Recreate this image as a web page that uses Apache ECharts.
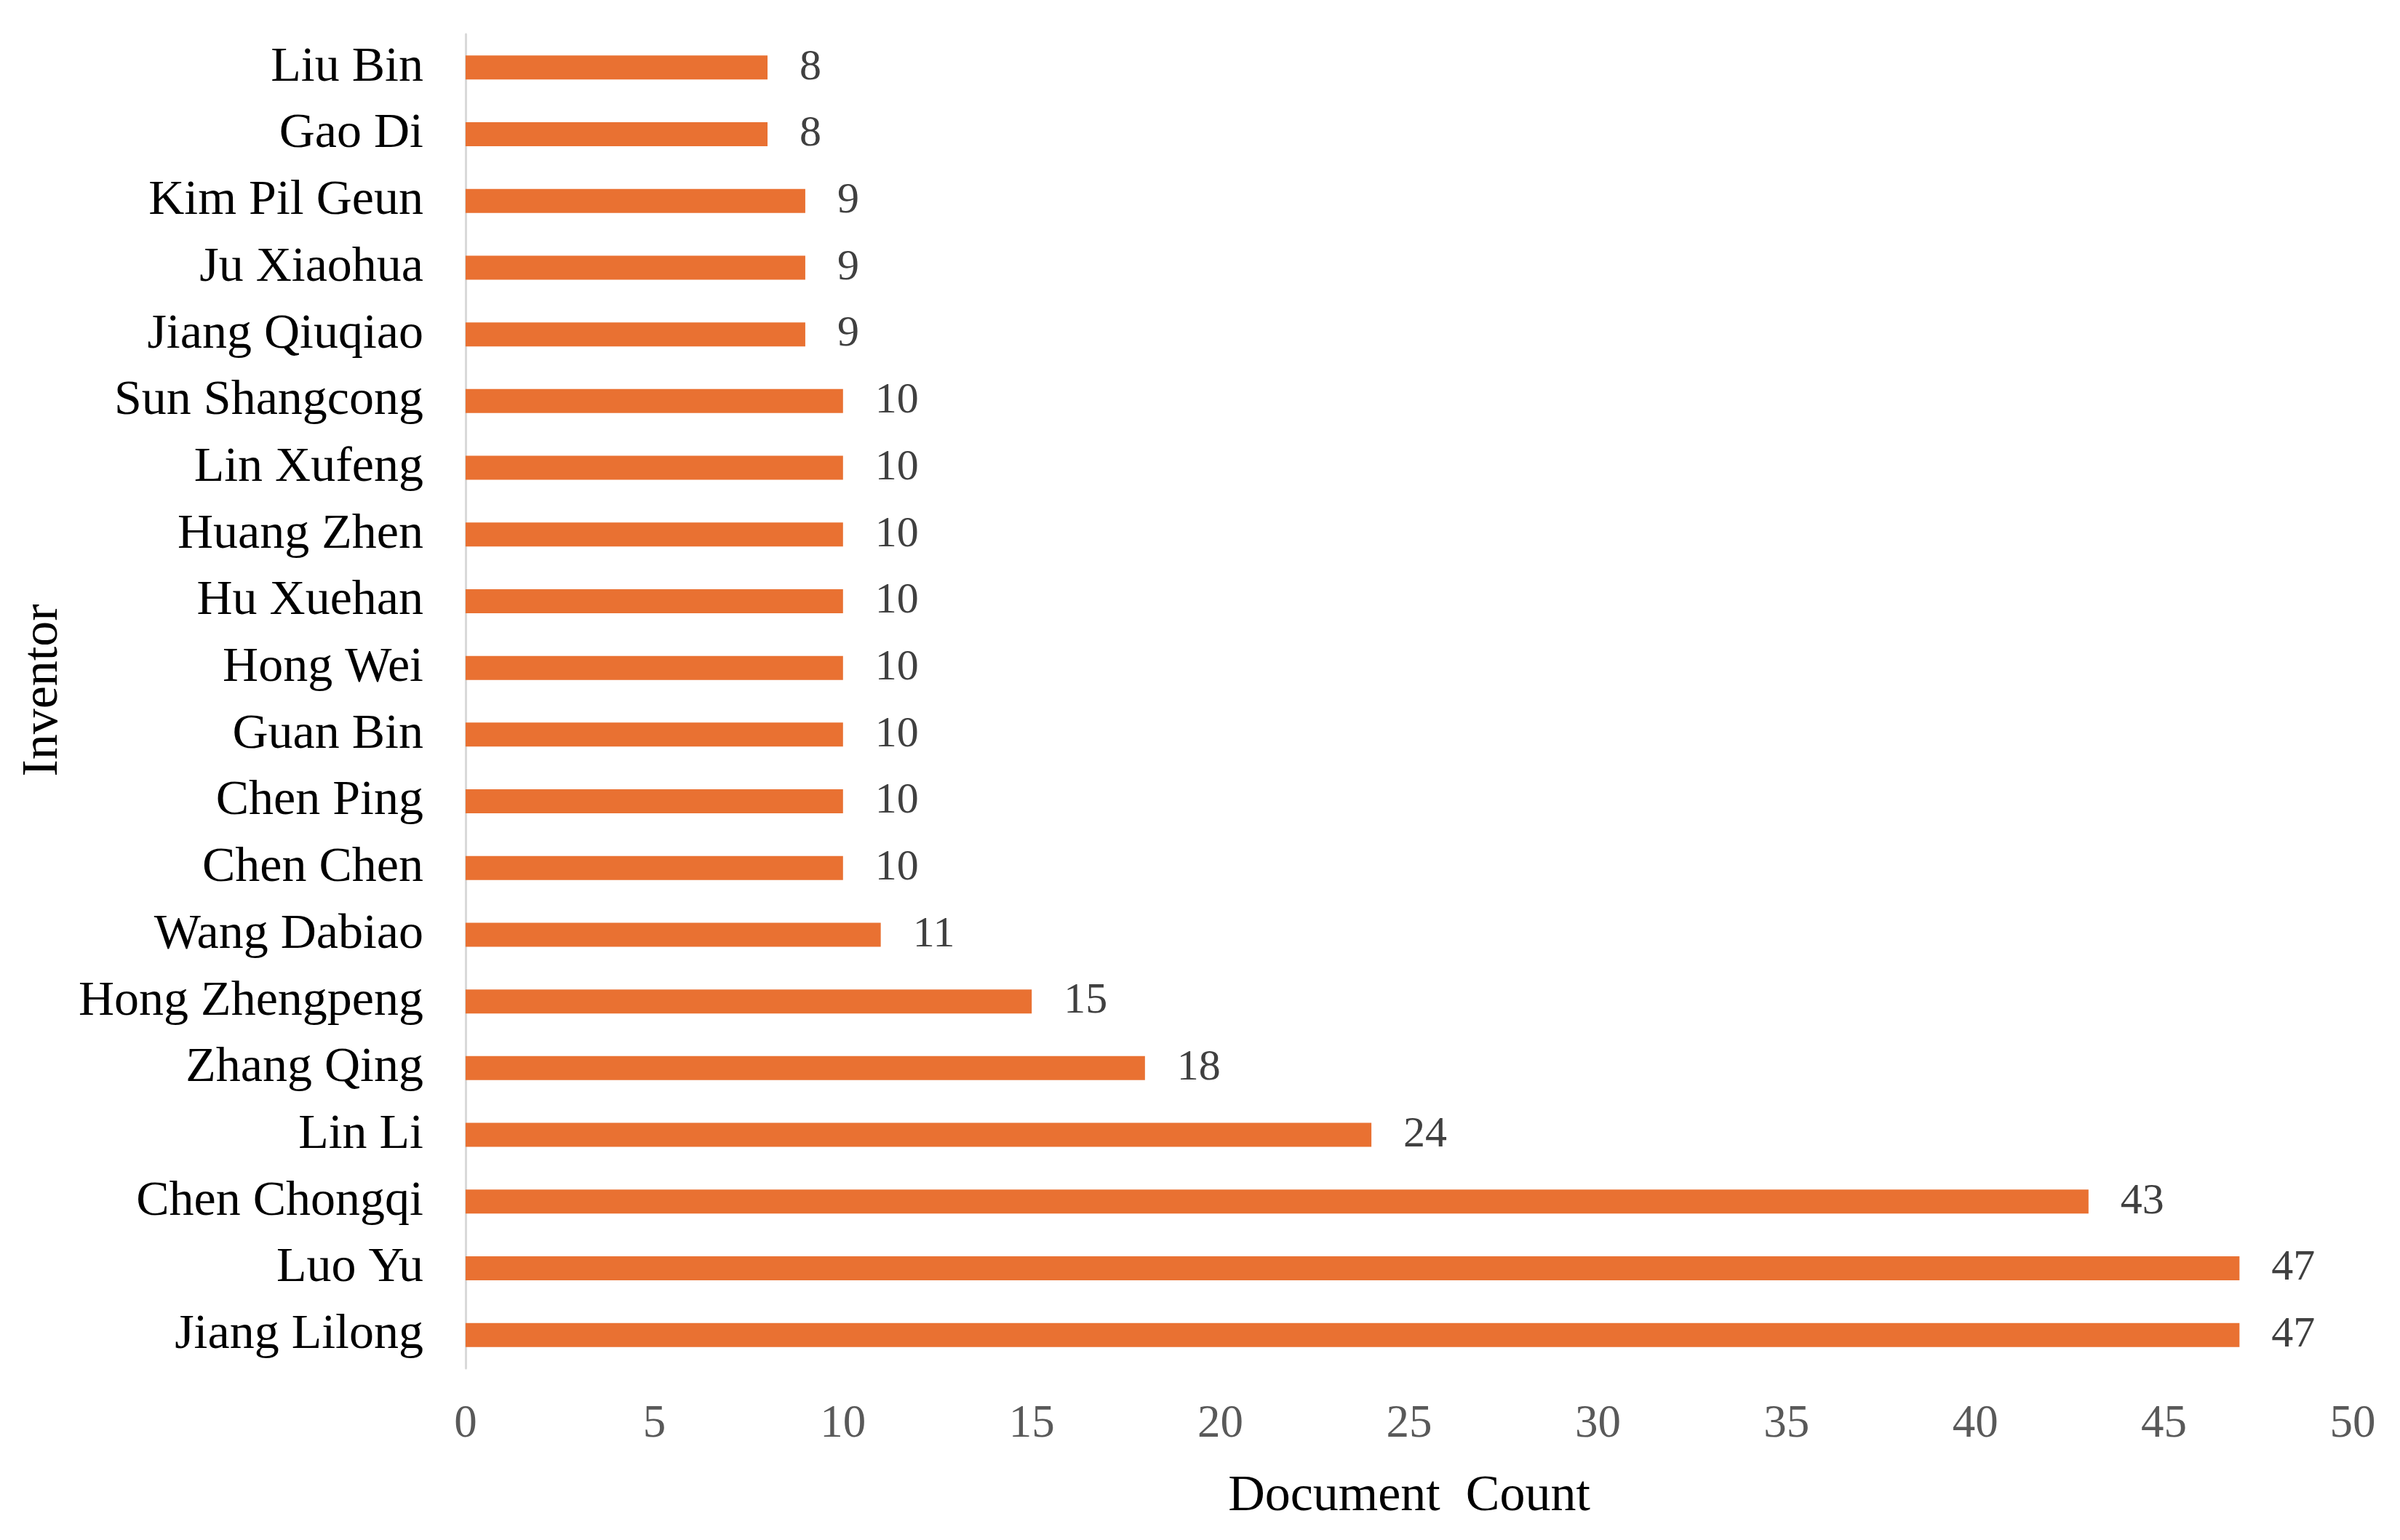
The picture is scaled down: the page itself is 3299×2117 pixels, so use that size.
<!DOCTYPE html>
<html>
<head>
<meta charset="utf-8">
<script src="https://cdn.jsdelivr.net/npm/echarts@6/dist/echarts.min.js"></script>
<style>
html,body{margin:0;padding:0;background:#fff;}
#chart{width:3299px;height:2117px;}
</style>
</head>
<body>
<div id="chart"></div>
<script>
// Categories listed top to bottom as in the reference
const inventors = ["Liu Bin","Gao Di","Kim Pil Geun","Ju Xiaohua","Jiang Qiuqiao","Sun Shangcong","Lin Xufeng","Huang Zhen","Hu Xuehan","Hong Wei","Guan Bin","Chen Ping","Chen Chen","Wang Dabiao","Hong Zhengpeng","Zhang Qing","Lin Li","Chen Chongqi","Luo Yu","Jiang Lilong"];
const documentCounts = [8,8,9,9,9,10,10,10,10,10,10,10,10,11,15,18,24,43,47,47];
const xTicks = {min:0, max:50, interval:5};
const xAxisTitle = "Document  Count";
const yAxisTitle = "Inventor";

const FONT = "'Liberation Serif','Times New Roman',serif";
const chart = echarts.init(document.getElementById('chart'));
chart.setOption({
  animation:false,
  backgroundColor:'#ffffff',
  grid:{left:640, right:65, top:47, bottom:236, containLabel:false},
  xAxis:{
    type:'value', min:xTicks.min, max:xTicks.max, interval:xTicks.interval,
    axisLine:{show:false}, axisTick:{show:false}, splitLine:{show:false},
    axisLabel:{fontFamily:FONT, fontSize:63, color:'#595959', margin:46},
    name:xAxisTitle, nameLocation:'middle', nameGap:142,
    nameTextStyle:{fontFamily:FONT, fontSize:70, color:'#000000'}
  },
  yAxis:{
    type:'category', data:inventors, inverse:true,
    axisLine:{show:true, lineStyle:{color:'#d9d9d9', width:3}},
    axisTick:{show:false},
    axisLabel:{fontFamily:FONT, fontSize:68, color:'#000000', margin:58},
    name:yAxisTitle, nameLocation:'middle', nameGap:545, nameRotate:90,
    nameTextStyle:{fontFamily:FONT, fontSize:70, color:'#000000', padding:[0,0,0,30]}
  },
  series:[{
    type:'bar', data:documentCounts, barWidth:33,
    itemStyle:{color:'#E97132'},
    label:{show:true, position:'right', distance:44, fontFamily:FONT, fontSize:60, color:'#404040'}
  }]
});
</script>
</body>
</html>
